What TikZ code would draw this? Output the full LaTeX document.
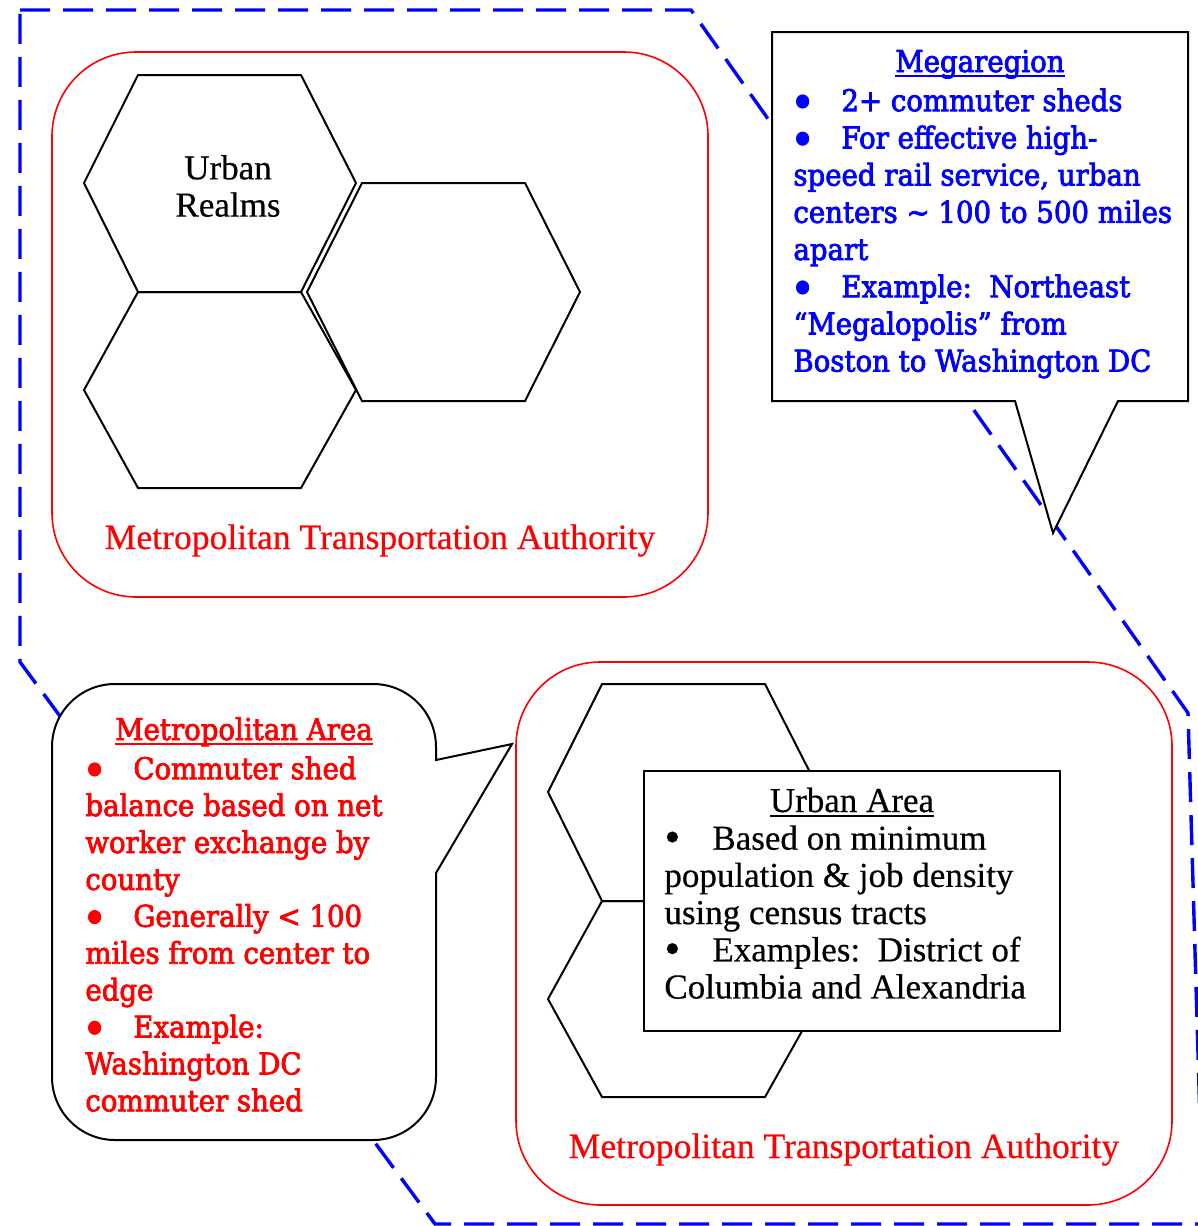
\documentclass[tikz,border=0pt]{standalone}
\usepackage{graphicx}
\usepackage{fontspec}
\setmainfont[FakeBold=0.4]{Liberation Serif}
\newfontfamily\calloutfont[FakeStretch=0.92, FakeBold=2.5]{DejaVu Serif}
\usepackage{tikz}
\definecolor{megablue}{RGB}{0,0,255}
\definecolor{metrored}{RGB}{255,0,0}
\newsavebox{\titlebox}
\newcommand{\titleline}[1]{\sbox{\titlebox}{#1}\rlap{\rule[-2.5pt]{\wd\titlebox}{0.8pt}}\usebox{\titlebox}}
\newcommand{\itembullet}{\makebox[24pt][l]{\hspace*{-1.5pt}\raisebox{-0.45ex}[0.8ex][0pt]{\scalebox{1.5}{\textbullet}}}}
\newcommand{\plainbullet}{\makebox[24pt][l]{\raisebox{-0.15ex}{\scalebox{1.3}{\textbullet}}}}

\begin{document}
\begin{tikzpicture}[x=0.5pt, y=-0.5pt,
			outline/.style={draw=megablue, line width=1.7pt, dash pattern=on 15pt off 6.5pt},
			authority/.style={draw=metrored, line width=0.8pt, rounded corners=42pt},
			hexline/.style={draw=black, line width=1pt, line join=miter},
			callout/.style={draw=black, fill=white, line width=1pt},
			plaintext/.style={inner sep=0pt, font=\fontsize{17.5}{18.6}\selectfont},
			redplain/.style={plaintext, text=metrored, font=\fontsize{17.8}{18.6}\selectfont},
			bluetext/.style={inner sep=0pt, text=megablue, font=\calloutfont\fontsize{15}{18.6}\selectfont},
			redtext/.style={inner sep=0pt, text=metrored, font=\calloutfont\fontsize{15}{18.45}\selectfont}
		]
		\useasboundingbox (0,0) rectangle (1198,1226);

		\draw[outline] (20,10) -- (691,10) -- (1188,713) -- (1203,1224) -- (435,1224) -- (20,662) -- cycle;

		\draw[authority] (52,52) rectangle (708,597);
		\draw[authority] (516,662) rectangle (1172,1205);

		\draw[hexline] (138,75) -- (301,75) -- (356,183) -- (301,292) -- (138,292) -- (84,183) -- cycle;
		\draw[hexline] (138,292) -- (301,292) -- (356,390) -- (301,488) -- (138,488) -- (84,390) -- cycle;
		\draw[hexline] (362,183) -- (525,183) -- (580,292) -- (525,401) -- (362,401) -- (307,292) -- cycle;

		\draw[hexline] (602,684) -- (765,684) -- (820,792) -- (765,901) -- (602,901) -- (548,792) -- cycle;
		\draw[hexline] (602,901) -- (765,901) -- (820,999) -- (765,1097) -- (602,1097) -- (548,999) -- cycle;

		\draw[callout] (644,771) rectangle (1060,1031);

		\draw[callout] (772,32) -- (1188,32) -- (1188,401) -- (1118,401) -- (1053,533) -- (1015,401) -- (772,401) -- cycle;

		\draw[callout] (115,684) -- (373,684) arc[start angle=-90, end angle=0, radius=63] -- (436,760) -- (512,744) -- (436,873) -- (436,1077) arc[start angle=0, end angle=90, radius=63] -- (115,1140) arc[start angle=90, end angle=180, radius=63] -- (52,747) arc[start angle=180, end angle=270, radius=63] -- cycle;

		\node[plaintext, align=center] (realms) at (228,186) {Urban\\Realms};
		\node[redplain, anchor=base] (mtatop) at (380,549) {Metropolitan Transportation Authority};
		\node[redplain, anchor=base] (mtabottom) at (844,1158) {Metropolitan Transportation Authority};

		\node[bluetext, anchor=base] (megatitle) at (980,72) {\titleline{Megaregion}};
		\node[bluetext, align=left, anchor=north west] (megaitems) at (793,88) {\itembullet 2+ commuter sheds\\ \itembullet For effective high-\\speed rail service, urban\\centers \textasciitilde{} 100 to 500 miles\\apart\\ \itembullet Example:\ \ Northeast\\“Megalopolis” from\\Boston to Washington DC};

		\node[redtext, anchor=base] (metrotitle) at (244,740) {\titleline{Metropolitan Area}};
		\node[redtext, align=left, anchor=north west] (metroitems) at (85,756) {\itembullet Commuter shed\\balance based on net\\worker exchange by\\county\\ \itembullet Generally < 100\\miles from center to\\edge\\ \itembullet Example:\\Washington DC\\commuter shed};

		\node[plaintext, anchor=base] (urbantitle) at (852,812) {\titleline{Urban Area}};
		\node[plaintext, align=left, anchor=north west] (urbanitems) at (664,825) {\plainbullet Based on minimum\\population \& job density\\using census tracts\\ \plainbullet Examples:\ \ District of\\Columbia and Alexandria};

	\end{tikzpicture}
\end{document}
